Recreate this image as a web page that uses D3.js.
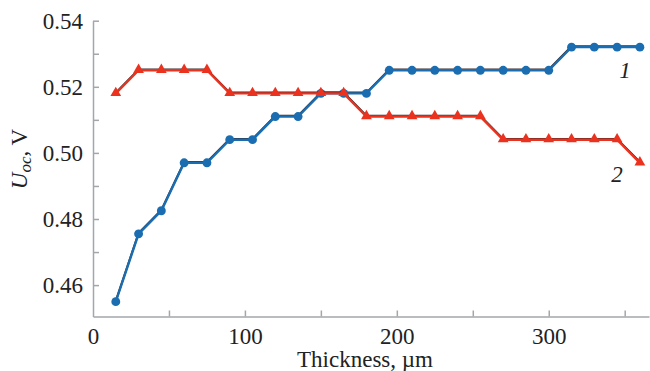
<!DOCTYPE html>
<html>
<head>
    <meta charset="utf-8">
    <title>Uoc vs thickness</title>
    <script src="https://d3js.org/d3.v7.min.js"></script>
    <style>
        body { margin: 0; background: #fff; }
    </style>
</head>
<body>
    <script>
        // thickness, um
        var thickness = [15, 30, 45, 60, 75, 90, 105, 120, 135, 150, 165, 180,
                         195, 210, 225, 240, 255, 270, 285, 300, 315, 330, 345, 360];
        // curve 1 (circles)
        var uoc1 = [0.455, 0.4755, 0.4825, 0.497, 0.497, 0.504, 0.504, 0.511, 0.511, 0.518, 0.518, 0.518,
                    0.525, 0.525, 0.525, 0.525, 0.525, 0.525, 0.525, 0.525, 0.532, 0.532, 0.532, 0.532];
        // curve 2 (triangles)
        var uoc2 = [0.518, 0.525, 0.525, 0.525, 0.525, 0.518, 0.518, 0.518, 0.518, 0.518, 0.518, 0.511,
                    0.511, 0.511, 0.511, 0.511, 0.511, 0.504, 0.504, 0.504, 0.504, 0.504, 0.504, 0.497];
        var xTicks = [0, 50, 100, 150, 200, 250, 300, 350];
        var xLabels = [0, 100, 200, 300];
        var yTicks = [0.46, 0.47, 0.48, 0.49, 0.50, 0.51, 0.52, 0.53, 0.54];
        var yLabels = [0.46, 0.48, 0.50, 0.52, 0.54];

        var width = 650;
        var height = 371;
        var serif = "'Liberation Serif', 'DejaVu Serif', 'Times New Roman', serif";

        var x = d3.scaleLinear().domain([0, 366]).range([93, 649]);
        var y = d3.scaleLinear().domain([0.4505, 0.54]).range([316.5, 20.7]);

        var svg = d3.select("body").append("svg")
            .attr("width", width)
            .attr("height", height)
            .style("font-family", serif);

        var axisColor = "#a3a7ab";

        var xAxis = d3.axisBottom(x)
            .tickValues(xTicks)
            .tickSizeInner(-6)
            .tickSizeOuter(0)
            .tickPadding(11)
            .tickFormat(function(d) { return xLabels.indexOf(d) >= 0 ? d : ""; });

        var yAxis = d3.axisLeft(y)
            .tickValues(yTicks)
            .tickSizeInner(-6)
            .tickSizeOuter(0)
            .tickPadding(10)
            .tickFormat(function(d) {
                return yLabels.some(function(v) { return Math.abs(v - d) < 1e-9; }) ? d3.format(".2f")(d) : "";
            });

        var gx = svg.append("g")
            .attr("transform", "translate(0," + y.range()[0] + ")")
            .call(xAxis);
        var gy = svg.append("g")
            .attr("transform", "translate(" + x.range()[0] + ",0)")
            .call(yAxis);

        [gx, gy].forEach(function(g) {
            g.attr("font-family", null).attr("font-size", null);
            g.selectAll("path, line").attr("stroke", axisColor).attr("stroke-width", 1.5);
            g.selectAll("text")
                .style("font-family", serif)
                .style("font-size", "23px")
                .attr("fill", "#222");
        });
        gx.select(".tick line").remove();

        // axis titles
        svg.append("text")
            .attr("x", 365)
            .attr("y", 367)
            .attr("text-anchor", "middle")
            .style("font-family", serif)
            .style("font-size", "23px")
            .attr("fill", "#222")
            .text("Thickness, µm");

        var ylab = svg.append("text")
            .attr("transform", "translate(27,159)rotate(-90)")
            .attr("text-anchor", "middle")
            .style("font-family", serif)
            .style("font-size", "23px")
            .attr("fill", "#222");
        ylab.append("tspan").attr("font-style", "italic").text("U");
        ylab.append("tspan").attr("font-style", "italic").style("font-size", "17px").attr("dy", 4).text("oc");
        ylab.append("tspan").attr("dy", -4).text(", V");

        var series = [
            { values: uoc1, color: "#196db0", mark: "circle", label: "1", lx: 625, ly: 78 },
            { values: uoc2, color: "#ea321f", mark: "triangle", label: "2", lx: 617, ly: 182 }
        ];

        var line = d3.line()
            .x(function(d) { return x(d[0]); })
            .y(function(d) { return y(d[1]); });

        series.forEach(function(s) {
            var pts = thickness.map(function(t, i) { return [t, s.values[i]]; });
            // dark edge from the scan
            svg.append("path")
                .datum(pts)
                .attr("d", line)
                .attr("fill", "none")
                .attr("stroke", "#3a2a2a")
                .attr("stroke-width", 2)
                .attr("transform", "translate(0,-0.8)");
            svg.append("path")
                .datum(pts)
                .attr("d", line)
                .attr("fill", "none")
                .attr("stroke", s.color)
                .attr("stroke-width", 2.4);

            var sym = d3.symbol()
                .type(s.mark === "circle" ? d3.symbolCircle : d3.symbolTriangle)
                .size(s.mark === "circle" ? 62 : 50);
            svg.selectAll(null)
                .data(pts)
                .enter()
                .append("path")
                .attr("d", sym)
                .attr("transform", function(d) {
                    return "translate(" + x(d[0]) + "," + (y(d[1]) + (s.mark === "circle" ? 0 : -0.5)) + ")";
                })
                .attr("fill", s.color);

            svg.append("text")
                .attr("x", s.lx)
                .attr("y", s.ly)
                .attr("text-anchor", "middle")
                .attr("font-style", "italic")
                .style("font-family", serif)
                .style("font-size", "23px")
                .attr("fill", "#222")
                .text(s.label);
        });
    </script>
</body>
</html>
